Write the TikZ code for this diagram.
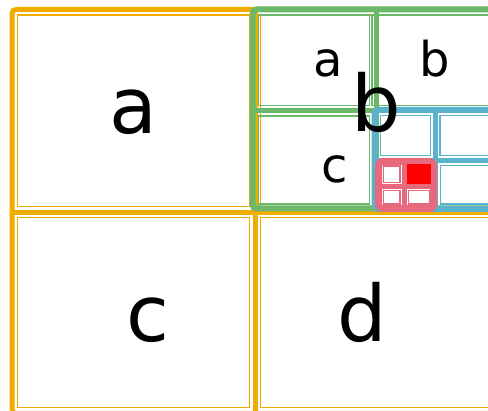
\documentclass[tikz,border=0pt]{standalone}
\usepackage{fontspec}
\setmainfont{DejaVu Sans}
\definecolor{qorange}{RGB}{240,173,0}
\definecolor{qgreen}{RGB}{107,184,107}
\definecolor{qblue}{RGB}{91,178,204}
\definecolor{qpink}{RGB}{230,105,124}
\definecolor{qred}{RGB}{255,0,0}
\tikzset{
  thickbox/.style={line width=#1, rounded corners=4pt},
  thinbox/.style={line width=1.3pt},
  bigl/.style={anchor=base, inner sep=0pt, font=\fontsize{78}{78}\selectfont},
  smalll/.style={anchor=base, inner sep=0pt, font=\fontsize{48}{48}\selectfont},
}
\begin{document}
\begin{tikzpicture}[x=1pt,y=-1pt]
\useasboundingbox (0,0) rectangle (488,411);
\clip (0,0) rectangle (488,411);
\fill[white] (0,0) rectangle (488,411);
% ---- orange (root) ----
\draw[qorange, thickbox=5pt] (12,9.5) rectangle (500,413.5);
\draw[qorange, line width=5pt] (255.5,9.5) -- (255.5,413.5);
\draw[qorange, line width=5pt] (12,212.5) -- (500,212.5);
\draw[qorange, thinbox] (17.5,15) rectangle (249.5,206.5);
\draw[qorange, thinbox] (260.5,15) rectangle (494,206.5);
\draw[qorange, thinbox] (17.5,217.5) rectangle (249.5,407.5);
\draw[qorange, thinbox] (260.5,217.5) rectangle (494,407.5);
% ---- green ----
\draw[qgreen, thickbox=6pt] (252.5,9.5) rectangle (500,208.5);
\draw[qgreen, line width=5pt] (376,9.5) -- (376,208.5);
\draw[qgreen, line width=5pt] (252.5,110.5) -- (500,110.5);
\draw[qgreen, thinbox] (258.5,15) rectangle (369.5,105.5);
\draw[qgreen, thinbox] (372,15) rectangle (494,105.5);
\draw[qgreen, thinbox] (258.5,116) rectangle (369.5,204);
% ---- blue ----
\draw[qblue, thickbox=6pt] (374.5,110) rectangle (500,209);
\draw[qblue, line width=5pt] (435.5,110) -- (435.5,209);
\draw[qblue, line width=5pt] (374.5,160.5) -- (500,160.5);
\draw[qblue, thinbox] (380.5,115.5) rectangle (430.5,155.5);
\draw[qblue, thinbox] (440,115.5) rectangle (494,155.5);
\draw[qblue, thinbox] (440.5,165.5) rectangle (494,204);
% ---- pink ----
\draw[qpink, thickbox=7pt] (378.5,161.5) rectangle (433.5,208.5);
\draw[qpink, line width=5pt] (404.5,161.5) -- (404.5,208.5);
\draw[qpink, line width=5pt] (378.5,186.5) -- (433.5,186.5);
\draw[qpink, thinbox] (383.5,166) rectangle (400,182.5);
\draw[qpink, thinbox] (383.5,190.5) rectangle (400,204);
\draw[qpink, thinbox] (408.5,190.5) rectangle (429.5,204);
\fill[qred] (407,164.5) rectangle (430.5,184);
% ---- labels ----
\node[bigl] (la) at (133.5,134) {a};
\node[bigl] (lc) at (148,342) {c};
\node[bigl] (ld) at (362.5,342) {d};
\node[bigl] (lb) at (376.5,132) {b};
\node[smalll] (sa) at (328,77) {a};
\node[smalll] (sb) at (434.5,77) {b};
\node[smalll] (sc) at (335,183) {c};
\end{tikzpicture}
\end{document}
